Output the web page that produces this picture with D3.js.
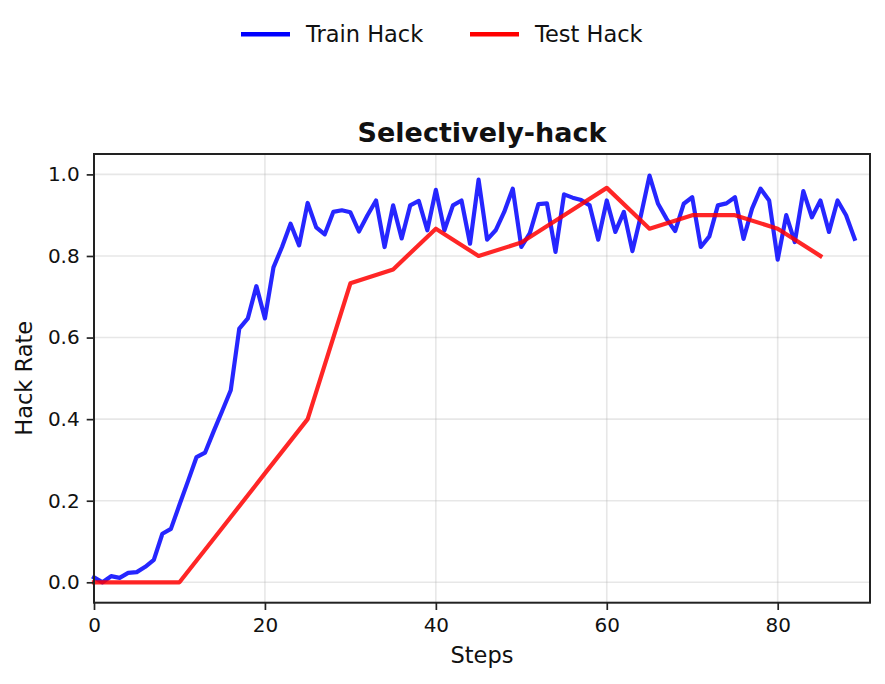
<!DOCTYPE html>
<html>
<head>
<meta charset="utf-8">
<style>
  body { margin: 0; background: #fff; }
  svg { display: block; font-family: "DejaVu Sans", sans-serif; }
</style>
</head>
<body>
<div id="chart"></div>
<script src="https://d3js.org/d3.v7.min.js"></script>
<script>
// data
var trainSteps = d3.range(0, 90);
var trainHack = [
  0.012, 0.0, 0.015, 0.011, 0.023, 0.025, 0.038, 0.055, 0.119, 0.131,
  0.19, 0.248, 0.307, 0.318, 0.37, 0.42, 0.471, 0.622, 0.647, 0.726,
  0.647, 0.772, 0.822, 0.879, 0.826, 0.93, 0.87, 0.853, 0.908, 0.912,
  0.907, 0.86, 0.9, 0.936, 0.822, 0.924, 0.843, 0.924, 0.935, 0.863,
  0.962, 0.863, 0.924, 0.936, 0.83, 0.987, 0.84, 0.863, 0.908, 0.965,
  0.822, 0.856, 0.927, 0.929, 0.81, 0.951, 0.943, 0.937, 0.924, 0.84,
  0.936, 0.859, 0.908, 0.812, 0.9, 0.997, 0.928, 0.891, 0.861, 0.928,
  0.944, 0.822, 0.848, 0.924, 0.929, 0.944, 0.842, 0.916, 0.965, 0.936,
  0.791, 0.9, 0.834, 0.959, 0.895, 0.936, 0.859, 0.936, 0.9, 0.842
];
var testSteps = [0, 5, 10, 15, 20, 25, 30, 35, 40, 45, 50, 55, 60, 65, 70, 75, 80, 85];
var testHack = [0, 0, 0, 0.133, 0.267, 0.4, 0.733, 0.767, 0.867, 0.8, 0.833, 0.9, 0.967, 0.867, 0.9, 0.9, 0.867, 0.8];
var xTicks = [0, 20, 40, 60, 80];
var yTicks = [0, 0.2, 0.4, 0.6, 0.8, 1.0];

var W = 885, H = 684;
var plotLeft = 94, plotRight = 870, plotTop = 154, plotBottom = 602.7;

var svg = d3.select("#chart").append("svg")
  .attr("width", W).attr("height", H);

var x = d3.scaleLinear().domain([0, 90.8]).range([plotLeft, plotRight]);
var y = d3.scaleLinear().domain([-0.05, 1.05]).range([plotBottom, plotTop]);

// grid
var grid = svg.append("g");
grid.selectAll(".gx").data(xTicks).enter().append("line")
  .attr("x1", d => x(d)).attr("x2", d => x(d))
  .attr("y1", plotTop).attr("y2", plotBottom)
  .attr("stroke", "#b0b0b0").attr("stroke-opacity", 0.3).attr("stroke-width", 1.6);
grid.selectAll(".gy").data(yTicks).enter().append("line")
  .attr("x1", plotLeft).attr("x2", plotRight)
  .attr("y1", d => y(d)).attr("y2", d => y(d))
  .attr("stroke", "#b0b0b0").attr("stroke-opacity", 0.3).attr("stroke-width", 1.6);

// lines
var line = d3.line().x(d => x(d[0])).y(d => y(d[1]));
svg.append("path")
  .datum(trainSteps.map((s, i) => [s, trainHack[i]]))
  .attr("d", line).attr("fill", "none")
  .attr("stroke", "#0000ff").attr("stroke-opacity", 0.85)
  .attr("stroke-width", 4.2).attr("stroke-linejoin", "round").attr("stroke-linecap", "square");
svg.append("path")
  .datum(testSteps.map((s, i) => [s, testHack[i]]))
  .attr("d", line).attr("fill", "none")
  .attr("stroke", "#ff0000").attr("stroke-opacity", 0.85)
  .attr("stroke-width", 4.2).attr("stroke-linejoin", "round").attr("stroke-linecap", "square");

// axes
var xAxis = svg.append("g")
  .attr("transform", "translate(0," + plotBottom + ")")
  .call(d3.axisBottom(x).tickValues(xTicks).tickSize(7.3).tickPadding(8).tickFormat(d3.format("d")));
var yAxis = svg.append("g")
  .attr("transform", "translate(" + plotLeft + ",0)")
  .call(d3.axisLeft(y).tickValues(yTicks).tickSize(7.3).tickPadding(7).tickFormat(d3.format(".1f")));
[xAxis, yAxis].forEach(function (a) {
  a.select(".domain").remove();
  a.selectAll(".tick line").attr("stroke", "#222").attr("stroke-width", 1.7);
  a.selectAll(".tick text").attr("fill", "#111").style("font-size", "20px")
    .style("font-family", "'DejaVu Sans', sans-serif");
});

// frame
svg.append("rect")
  .attr("x", plotLeft).attr("y", plotTop)
  .attr("width", plotRight - plotLeft).attr("height", plotBottom - plotTop)
  .attr("fill", "none").attr("stroke", "#222").attr("stroke-width", 2);

// labels
svg.append("text")
  .attr("x", (plotLeft + plotRight) / 2).attr("y", 141.5)
  .attr("text-anchor", "middle")
  .style("font-size", "27px").style("font-weight", "bold").attr("fill", "#111")
  .text("Selectively-hack");
svg.append("text")
  .attr("x", (plotLeft + plotRight) / 2).attr("y", 663)
  .attr("text-anchor", "middle")
  .style("font-size", "22.5px").attr("fill", "#111")
  .text("Steps");
svg.append("text")
  .attr("transform", "translate(32," + ((plotTop + plotBottom) / 2) + ") rotate(-90)")
  .attr("text-anchor", "middle")
  .style("font-size", "22.5px").attr("fill", "#111")
  .text("Hack Rate");

// legend
var legendItems = [
  { name: "Train Hack", color: "#0000ff", x0: 241 },
  { name: "Test Hack", color: "#ff0000", x0: 470 }
];
var lg = svg.append("g");
legendItems.forEach(function (it) {
  lg.append("line")
    .attr("x1", it.x0).attr("x2", it.x0 + 49)
    .attr("y1", 34.3).attr("y2", 34.3)
    .attr("stroke", it.color).attr("stroke-width", 4.5);
  lg.append("text")
    .attr("x", it.x0 + 65).attr("y", 41.7)
    .style("font-size", "22.5px").attr("fill", "#111")
    .text(it.name);
});
</script>
</body>
</html>
